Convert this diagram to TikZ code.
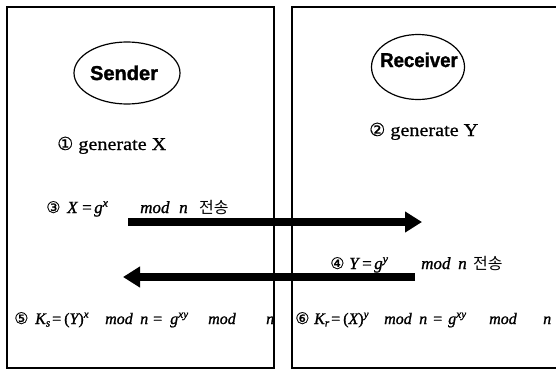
\documentclass[tikz,border=0pt]{standalone}
\usepackage{fontspec}
\usetikzlibrary{shapes.geometric,arrows.meta}
\setmainfont{Liberation Serif}
\newfontfamily\gensans[FakeBold=1.5]{Liberation Sans Bold}
\newfontfamily\gensansn[FakeBold=1.5,FakeStretch=0.93]{Liberation Sans Bold}
\newfontfamily\genserif[FakeStretch=1.12,FakeBold=0.8]{Liberation Serif}
\newfontfamily\eqfont[FakeBold=1.2]{Liberation Serif Italic}
\newfontfamily\equp[FakeBold=1.2]{Liberation Serif}
\newfontfamily\circfont[FakeBold=0.6]{DejaVu Sans}
\newfontfamily\krfont{Noto Sans CJK KR}
\tikzset{
  panel/.style={line width=1.6pt},
  actor/.style={draw, ellipse, line width=1.2pt, inner sep=0pt},
  actorname/.style={anchor=base, inner sep=0pt, font=\gensans\fontsize{20}{22}\selectfont},
  gentext/.style={anchor=base west, inner sep=0pt, font=\genserif\fontsize{18}{20}\selectfont},
  mathtext/.style={anchor=base west, inner sep=0pt, font=\eqfont\fontsize{17}{20}\selectfont},
  keytext/.style={anchor=base west, inner sep=0pt, font=\eqfont\fontsize{16}{18}\selectfont},
  bigarrow/.style={line width=8pt, -{Triangle[length=17pt,width=20pt]}}
}
\newcommand{\circn}[2][16]{{\circfont\fontsize{#1}{18}\selectfont #2}}
\newcommand{\upw}[1]{\textsuperscript{#1}}
\newcommand{\tokat}[2]{\rlap{\hspace*{#1pt}#2}}
\newcommand{\eqs}{{\equp =}}
\newcommand{\lpar}{{\equp (}}
\newcommand{\rpar}{{\equp )}}
\newcommand{\kr}[1]{{\krfont\fontsize{16}{18}\selectfont #1}}
\begin{document}
\begin{tikzpicture}[x=1pt,y=-1pt]
\useasboundingbox (0,0) rectangle (556,372);
% panels
\draw[panel] (7,7) rectangle (274,368);
\draw[panel] (292,7) rectangle (558,368);
% actors
\node[actor, minimum width=106pt, minimum height=62pt] (sendE) at (127,73) {};
\node[actorname] (sendT) at (124,80) {Sender};
\node[actor, minimum width=93pt, minimum height=65pt] (recvE) at (418,67) {};
\node[actorname, font=\gensansn\fontsize{20}{22}\selectfont] (recvT) at (419,67) {Receiver};
% generate steps
\node[gentext] (gen1) at (57,150) {\circn[18]{①} generate X};
\node[gentext] (gen2) at (369,136) {\circn[18]{②} generate Y};
% transmissions
\node[mathtext] (send1) at (46,213) {\tokat{0}{\circn{③}}\tokat{21}{X}\tokat{36}{\eqs}\tokat{48}{g\upw{x}}\tokat{94}{mod}\tokat{133}{n}\tokat{153}{\kr{전송}}\hspace*{188pt}};
\node[mathtext] (send2) at (330,269) {\tokat{0}{\circn{④}}\tokat{19}{Y}\tokat{32}{\eqs}\tokat{44}{g\upw{y}}\tokat{91}{mod}\tokat{128}{n}\tokat{143}{\kr{전송}}\hspace*{178pt}};
\coordinate (a1s) at (128,222);
\coordinate (a1e) at (422,222);
\coordinate (a2s) at (415,277);
\coordinate (a2e) at (123,277);
\draw[bigarrow] (a1s) -- (a1e);
\draw[bigarrow] (a2s) -- (a2e);
% keys
\node[keytext] (key1) at (14,324) {\tokat{0}{\circn{⑤}}\tokat{21}{K\textsubscript{s}}\tokat{38}{\eqs}\tokat{50}{\lpar Y\rpar\upw{x}}\tokat{91}{mod}\tokat{126}{n}\tokat{139}{\eqs}\tokat{156}{g\upw{xy}}\tokat{194}{mod}\tokat{252}{n}\hspace*{263pt}};
\node[keytext] (key2) at (295,324) {\tokat{0}{\circn{⑥}}\tokat{19}{K\textsubscript{r}}\tokat{36}{\eqs}\tokat{48}{\lpar X\rpar\upw{y}}\tokat{89}{mod}\tokat{124}{n}\tokat{138}{\eqs}\tokat{153}{g\upw{xy}}\tokat{194}{mod}\tokat{248}{n}\hspace*{259pt}};
\end{tikzpicture}
\end{document}
